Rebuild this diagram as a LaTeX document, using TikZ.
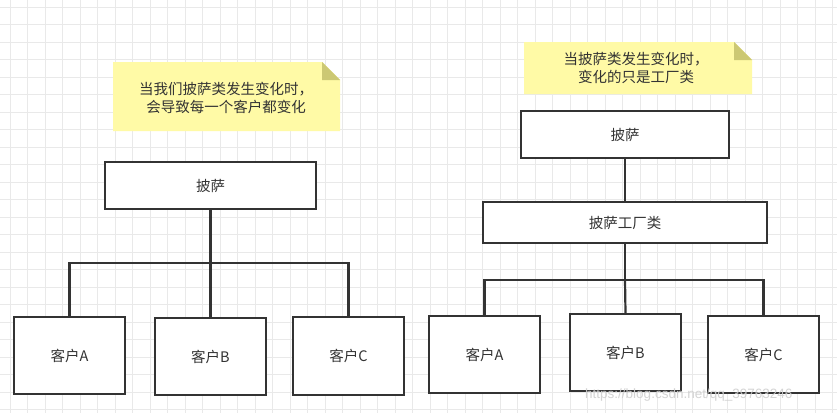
\documentclass[tikz,border=0pt]{standalone}
\usepackage{fontspec}
\setmainfont{Noto Sans CJK SC}
\newfontfamily\markfont{Liberation Sans}
\definecolor{linegray}{HTML}{333333}
\definecolor{gridgray}{HTML}{E9E9E9}
\definecolor{noteyellow}{HTML}{FFFAA6}
\definecolor{notefold}{HTML}{CCC873}
\definecolor{markgray}{HTML}{CFCFCF}
\begin{document}
\begin{tikzpicture}[x=1pt, y=-1pt,
    box/.style={draw=linegray, line width=2.2pt, fill=white, text=linegray,
      font=\fontsize{14.5}{18}\selectfont, inner sep=0pt},
    wire/.style={draw=linegray, line width=2.2pt},
    notetext/.style={text=linegray, align=center, font=\fontsize{14.5}{18}\selectfont}]
  \fill[white] (0,0) rectangle (837,413);
  \useasboundingbox (0,0) rectangle (837,413);
  \foreach \x in {10,27.5,...,837} \draw[gridgray, line width=1pt] (\x,0) -- (\x,413);
  \foreach \y in {7,24.5,...,413} \draw[gridgray, line width=1pt] (0,\y) -- (837,\y);

  \fill[noteyellow] (113,62) -- (322,62) -- (340,80) -- (340,131) -- (113,131) -- cycle;
  \fill[notefold] (322,62) -- (340,80) -- (322,80) -- cycle;
  \node[notetext] (lnote) at (226,98) {当我们披萨类发生变化时，\\ 会导致每一个客户都变化};

  \node[box, minimum width=211pt, minimum height=47pt] (lpizza) at (210.5,185.5) {披萨};
  \node[box, minimum width=111pt, minimum height=77pt] (lA) at (69.5,355.5) {客户A};
  \node[box, minimum width=111pt, minimum height=77pt] (lB) at (210.5,356.5) {客户B};
  \node[box, minimum width=111pt, minimum height=78pt] (lC) at (348.5,356) {客户C};
  \coordinate (lbus) at (210.5,263);
  \draw[wire] (lpizza) -- (lbus);
  \draw[wire] (lA.north) |- (lbus) -| (lC.north);
  \draw[wire] (lbus) -- (lB.north);

  \fill[noteyellow] (524,42) -- (734,42) -- (752,60) -- (752,94) -- (524,94) -- cycle;
  \fill[notefold] (734,42) -- (752,60) -- (734,60) -- cycle;
  \node[notetext] (rnote) at (636,68) {当披萨类发生变化时，\\ 变化的只是工厂类};

  \node[box, minimum width=208pt, minimum height=47pt] (rpizza) at (625,134.5) {披萨};
  \node[box, minimum width=284pt, minimum height=41pt] (rfactory) at (625,222.5) {披萨工厂类};
  \node[box, minimum width=111pt, minimum height=77pt] (rA) at (484.5,354.5) {客户A};
  \node[box, minimum width=111pt, minimum height=77pt] (rB) at (625.5,352.5) {客户B};
  \node[box, minimum width=111pt, minimum height=77pt] (rC) at (763.5,354.5) {客户C};
  \draw[wire] (rpizza) -- (rfactory);
  \coordinate (rbus) at (625,280);
  \draw[wire] (rfactory) -- (rbus);
  \draw[wire] (rA.north) |- (rbus) -| (rC.north);
  \draw[wire] (rbus) -- (rB.north);

  \node[text=markgray, opacity=0.9, anchor=west, inner sep=0pt,
    font=\markfont\fontsize{13.5}{16}\selectfont] (mark) at (585,395) {https://blog.csdn.net/qq\_39763246};
\end{tikzpicture}
\end{document}
